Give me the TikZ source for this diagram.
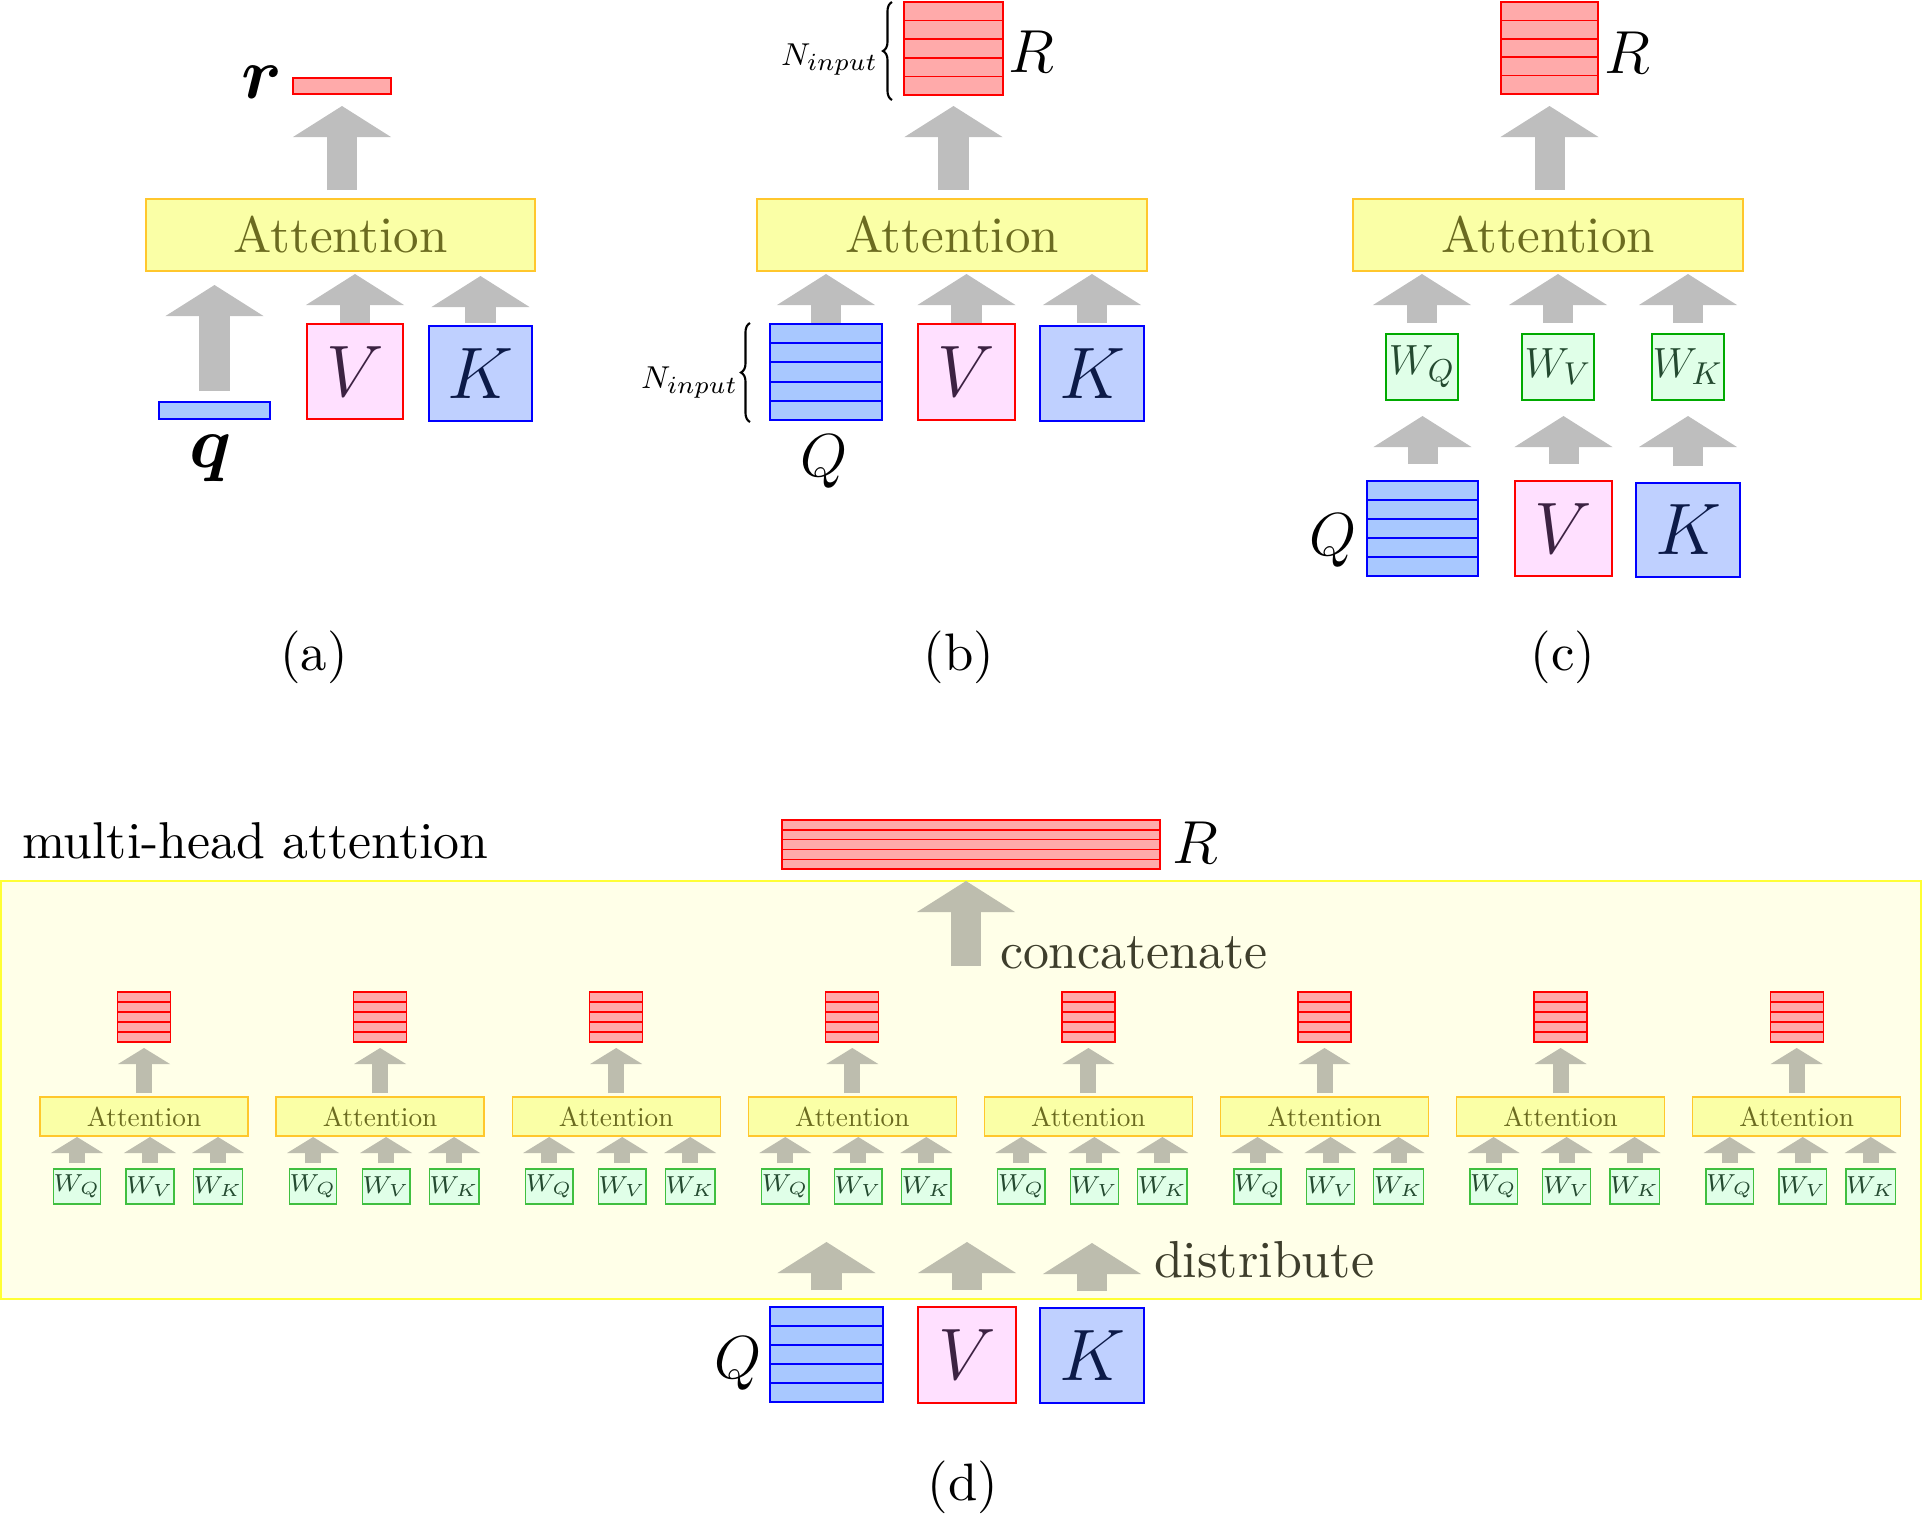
\documentclass[tikz,border=0pt]{standalone}
\usepackage{amsmath,amssymb}
\usepackage{tikz}
\usetikzlibrary{positioning,arrows.meta,calc,decorations.pathreplacing}

\definecolor{arrgray}{HTML}{BEBEBE}
\definecolor{arrolive}{HTML}{BDBDAE}
\definecolor{attfill}{HTML}{FAFFA6}
\definecolor{attline}{HTML}{FFC72C}
\definecolor{atttext}{HTML}{6B6B20}
\definecolor{outfill}{HTML}{FFAAAA}
\definecolor{qfill}{HTML}{A8C8FF}
\definecolor{kfill}{HTML}{BFD0FF}
\definecolor{vfill}{HTML}{FFE0FF}
\definecolor{wfill}{HTML}{E0FFE8}
\definecolor{wline}{HTML}{00AA00}
\definecolor{wtext}{HTML}{244A30}
\definecolor{vtext}{HTML}{3C2242}
\definecolor{ktext}{HTML}{0C1A48}
\definecolor{mhafill}{HTML}{FFFFE8}
\definecolor{mhaline}{HTML}{FFFF33}
\definecolor{optext}{HTML}{3E3E2C}

\newcommand{\fsz}[1]{\fontsize{#1}{#1}\selectfont}
% 10pt text blown up by a factor
\newcommand{\tenx}[2]{\scalebox{#1}{\fontsize{10}{12}\selectfont #2}}
% five stacked rows filling the holder node #1
\newcommand{\rowstack}[2]{%
  \foreach \k [evaluate=\k as \ta using \k/5, evaluate=\k as \tb using (\k+1)/5] in {0,...,4}
    \draw[#2] ($(#1.north west)!\ta!(#1.south west)$) rectangle ($(#1.north east)!\tb!(#1.south east)$);}

\tikzset{
  wh/.style 2 args={minimum width=#1*0.01cm, minimum height=#2*0.01cm},
  holder/.style={inner sep=0pt, outer sep=0pt},
  box/.style={holder, line width=0.5pt},
  att/.style={box, draw=attline, fill=attfill, text=atttext},
  attsmall/.style={box, draw=attline, fill=attfill, text=atttext, line width=0.4pt},
  vbox/.style={box, draw=red, fill=vfill, text=vtext, font=\fsz{19.5}},
  kbox/.style={box, draw=blue, fill=kfill, text=ktext, font=\fsz{19.5}},
  wbig/.style={box, draw=wline, fill=wfill, text=wtext, font=\fsz{13}, wh={72}{66}},
  wsmall/.style={box, draw=wline!75, fill=wfill, text=wtext, font=\fsz{7}, line width=0.4pt, wh={39}{35}},
  outrow/.style={draw=red, fill=outfill, line width=0.5pt},
  qrow/.style={draw=blue, fill=qfill, line width=0.6pt},
  big/.style={holder, font=\fsz{18.5}},
  sub/.style={holder},
  optxt/.style={holder, text=optext, anchor=base west},
  curly/.style={decorate, decoration={brace, amplitude=0.09cm}, line width=0.6pt},
  fat/.style={draw=arrgray, line width=0.3cm, -{Triangle[width=0.98cm 0, length=#1 0, line width=0pt 0]}},
  fat/.default=0.31cm,
  fatsmall/.style={draw=arrolive, line width=0.16cm, -{Triangle[width=0.52cm 0, length=0.16cm 0, line width=0pt 0]}},
}

\begin{document}
\begin{tikzpicture}[x=0.01cm, y=-0.01cm]
\useasboundingbox (0,0) rectangle (1923,1520);

% (a) single query
\node[att, wh={389}{72}] (attA) at (340.5,235) {\tenx{1.45}{Attention}};
\node[box, draw=red, fill=outfill, wh={98}{16}] (rA) at (342,86) {};
\node[holder, font=\fsz{20}, anchor=base] (rlabA) at (262,98) {$\boldsymbol{r}$};
\node[box, draw=blue, fill=qfill, line width=0.6pt, wh={111}{17}] (qA) at (214.5,410.5) {};
\node[holder, font=\fsz{20}, anchor=base] (qlabA) at (211,467) {$\boldsymbol{q}$};
\node[vbox, wh={96}{95}] (VA) at (355,371.5) {$V$};
\node[kbox, wh={103}{95}] (KA) at (480.5,373.5) {$K$};
\draw[fat, shorten <=0.09cm, shorten >=0.12cm] (rA.south |- attA.north) -- (rA.south);
\draw[fat, shorten <=0.11cm, shorten >=0.14cm] (qA.north) -- (qA.north |- attA.south);
\draw[fat, shorten <=0.01cm, shorten >=0.03cm] (VA.north) -- (VA.north |- attA.south);
\draw[fat, shorten <=0.03cm, shorten >=0.05cm] (KA.north) -- (KA.north |- attA.south);
\node[sub] (labA) at (314,657) {\tenx{1.5}{(a)}};

% (b) query matrix
\node[holder, wh={99}{93}] (Rb) at (953.5,48.5) {};
\rowstack{Rb}{outrow}
\node[big, anchor=base] (Rlabb) at (1031,72) {$R$};
\draw[curly] (892,100) -- (892,2);
\node[holder, font=\fsz{9.5}, anchor=base east] (Nb1) at (878,65) {$N_{input}$};
\node[att, wh={390}{72}] (attB) at (952,235) {\tenx{1.45}{Attention}};
\node[holder, wh={112}{96}] (Qb) at (826,372) {};
\rowstack{Qb}{qrow}
\node[vbox, wh={97}{96}] (Vb) at (966.5,372) {$V$};
\node[kbox, wh={104}{95}] (Kb) at (1092,373.5) {$K$};
\node[big, anchor=base] (Qlabb) at (824,476) {$Q$};
\draw[curly] (750,422) -- (750,323);
\node[holder, font=\fsz{9.5}, anchor=base east] (Nb2) at (738,388) {$N_{input}$};
\draw[fat, shorten <=0.09cm, shorten >=0.11cm] (Rb.south |- attB.north) -- (Rb.south);
\draw[fat, shorten <=0.01cm, shorten >=0.03cm] (Qb.north) -- (Qb.north |- attB.south);
\draw[fat, shorten <=0.01cm, shorten >=0.03cm] (Vb.north) -- (Vb.north |- attB.south);
\draw[fat, shorten <=0.03cm, shorten >=0.03cm] (Kb.north) -- (Kb.north |- attB.south);
\node[sub] (labB) at (959,657) {\tenx{1.5}{(b)}};

% (c) with projections
\node[holder, wh={97}{92}] (Rc) at (1549.5,48) {};
\rowstack{Rc}{outrow}
\node[big, anchor=base] (Rlabc) at (1627,73) {$R$};
\node[att, wh={390}{72}] (attC) at (1548,235) {\tenx{1.45}{Attention}};
\node[wbig] (WcQ) at (1422,367) {$W_Q$};
\node[wbig] (WcV) at (1558,367) {$W_V$};
\node[wbig] (WcK) at (1688,367) {$W_K$};
\node[holder, wh={111}{95}] (Qc) at (1422.5,528.5) {};
\rowstack{Qc}{qrow}
\node[vbox, wh={97}{95}] (Vc) at (1563.5,528.5) {$V$};
\node[kbox, wh={104}{94}] (Kc) at (1688,530) {$K$};
\node[big, anchor=base] (Qlabc) at (1333,555) {$Q$};
\draw[fat, shorten <=0.09cm, shorten >=0.12cm] (Rc.south |- attC.north) -- (Rc.south);
\foreach \w in {Q,V,K}
  \draw[fat, shorten <=0.11cm, shorten >=0.03cm] (Wc\w.north) -- (Wc\w.north |- attC.south);
\foreach \w in {Q,V,K}
  \draw[fat, shorten <=0.17cm, shorten >=0.16cm] (\w c.north) -- (\w c.north |- Wc\w.south);
\node[sub] (labC) at (1563,657) {\tenx{1.5}{(c)}};

% (d) multi-head attention
\node[holder, draw=mhaline, fill=mhafill, line width=0.6pt, wh={1920}{418}] (mha) at (961,1090) {};
\node[holder, anchor=base west] (mhaTitle) at (22,858) {\tenx{1.473}{multi-head attention}};
\node[holder, wh={378}{49}] (Rd) at (971,844.5) {};
\rowstack{Rd}{outrow, line width=0.4pt}
\node[big, anchor=base] (Rlabd) at (1195,863) {$R$};
\coordinate (catfoot) at (966,966);
\draw[fat, draw=arrolive] (catfoot) -- (catfoot |- mha.north);
\node[optxt] (cat) at (1000,968) {\tenx{1.475}{concatenate}};
\foreach \i in {0,...,7}{
  \pgfmathsetmacro{\cx}{144+236.1*\i}
  \node[attsmall, wh={208}{39}] (att\i) at (\cx,1116.5) {\tenx{0.776}{Attention}};
  \node[holder, wh={53}{50}] (out\i) at (\cx,1017) {};
  \rowstack{out\i}{outrow, line width=0.35pt}
  \node[wsmall] (wq\i) at (\cx-67,1186.5) {$W_Q$};
  \node[wsmall] (wv\i) at (\cx+6,1186.5) {$W_V$};
  \node[wsmall] (wk\i) at (\cx+74,1186.5) {$W_K$};
  \draw[fatsmall, shorten <=0.04cm, shorten >=0.06cm] (att\i.north) -- (out\i.south);
  \foreach \w in {q,v,k}
    \draw[fatsmall, shorten <=0.06cm, shorten >=0.01cm] (w\w\i.north) -- (w\w\i.north |- att\i.south);
}
\node[optxt] (dist) at (1154,1277) {\tenx{1.48}{distribute}};
\node[holder, wh={113}{95}] (Qd) at (826.5,1354.5) {};
\rowstack{Qd}{qrow}
\node[vbox, wh={98}{96}] (Vd) at (967,1355) {$V$};
\node[kbox, wh={104}{95}] (Kd) at (1092,1355.5) {$K$};
\node[big, anchor=base] (Qlabd) at (738,1378) {$Q$};
\foreach \n in {Qd,Vd,Kd}
  \draw[fat, draw=arrolive, shorten <=0.17cm] (\n.north) -- ++(0,-65);
\node[sub] (labD) at (963,1487) {\tenx{1.5}{(d)}};
\end{tikzpicture}
\end{document}
